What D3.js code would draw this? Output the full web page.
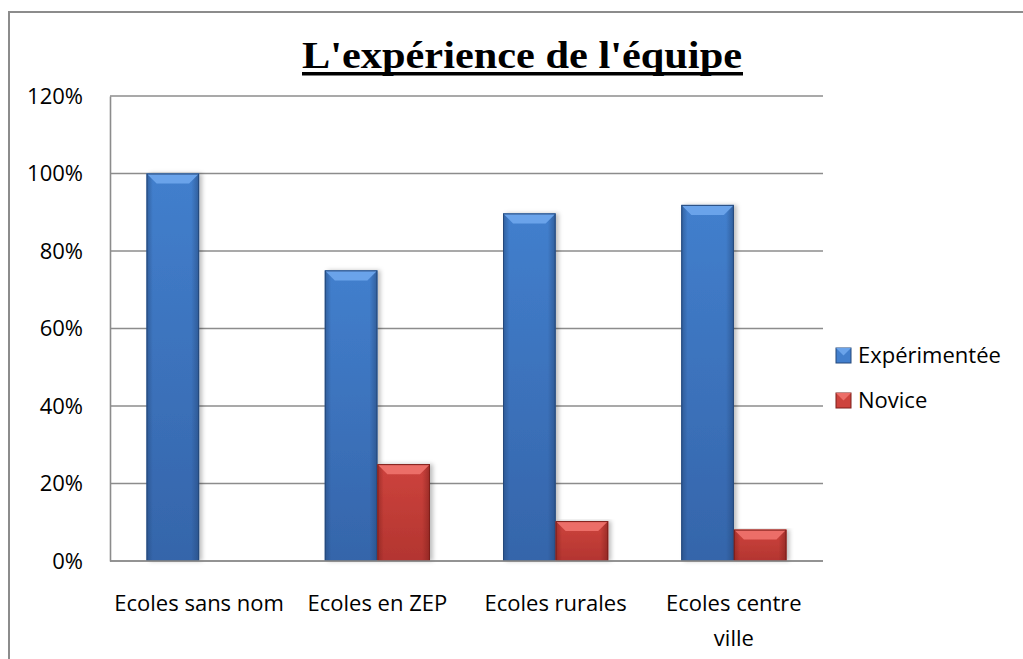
<!DOCTYPE html>
<html>
<head>
<meta charset="utf-8">
<script src="https://cdn.jsdelivr.net/npm/d3@7"></script>
<style>
  body { margin: 0; background: #fff; }
  svg { display: block; }
  text { font-family: "Open Sans", Lato, sans-serif; fill: #000; }
</style>
</head>
<body>
<svg id="chart"></svg>
<script>
let categories = ['Ecoles sans nom', 'Ecoles en ZEP', 'Ecoles rurales', 'Ecoles centre ville']
let seriesNames = ['Expérimentée', 'Novice']
let experimentee = [1.0, 0.75, 0.897, 0.919]
let novice = [0, 0.25, 0.103, 0.081]
let yTicks = [0, 0.2, 0.4, 0.6, 0.8, 1.0, 1.2]

let width = 1023
let height = 659
let plot = {left: 110, right: 823, top: 96, bottom: 561}
let fontSize = '22px'

// colours for the bevelled bars: main, light top, dark edge
let palette = [
  {top: '#427fcd', bottom: '#3565aa', bevel: '#6aa3ea', edge: '#25487a'},
  {top: '#cd433d', bottom: '#b33530', bevel: '#ec6e68', edge: '#7d1f1b'}
]

let svg = d3.select('#chart').attr('width', width).attr('height', height)

let rows = categories.map((c, i) => ({cat: c, values: [experimentee[i], novice[i]]}))

let x0 = d3.scaleBand().domain(categories).range([plot.left, plot.right])
           .paddingInner(0.41).paddingOuter(0.205)
let x1 = d3.scaleBand().domain(seriesNames).range([0, x0.bandwidth()])
let y = d3.scaleLinear().domain([0, 1.2]).range([plot.bottom, plot.top])

let defs = svg.append('defs')
palette.forEach((p, i) => {
  let g = defs.append('linearGradient').attr('id', 'grad' + i)
              .attr('x1', 0).attr('y1', 0).attr('x2', 0).attr('y2', 1)
  g.append('stop').attr('offset', '0%').attr('stop-color', p.top)
  g.append('stop').attr('offset', '100%').attr('stop-color', p.bottom)
  let h = defs.append('linearGradient').attr('id', 'side' + i)
              .attr('x1', 0).attr('y1', 0).attr('x2', 1).attr('y2', 0)
  h.append('stop').attr('offset', '0%').attr('stop-color', p.edge).attr('stop-opacity', 0.55)
  h.append('stop').attr('offset', '12%').attr('stop-color', p.edge).attr('stop-opacity', 0)
  h.append('stop').attr('offset', '85%').attr('stop-color', p.edge).attr('stop-opacity', 0)
  h.append('stop').attr('offset', '100%').attr('stop-color', p.edge).attr('stop-opacity', 0.6)
})
let shadow = defs.append('filter').attr('id', 'shadow').attr('x', '-20%').attr('y', '-5%')
                 .attr('width', '150%').attr('height', '115%')
shadow.append('feDropShadow').attr('dx', 3).attr('dy', 0).attr('stdDeviation', 2)
      .attr('flood-color', '#000').attr('flood-opacity', 0.25)

// outer frame
svg.append('rect')
   .attr('x', 9).attr('y', 12).attr('width', width).attr('height', height)
   .attr('fill', 'none').attr('stroke', '#8c8c8c').attr('stroke-width', 2)

// title
svg.append('text')
   .attr('x', 522).attr('y', 68)
   .attr('text-anchor', 'middle')
   .style('font-family', '"Liberation Serif", "Times New Roman", serif')
   .style('font-weight', 'bold')
   .style('font-size', '37px')
   .attr('textLength', 440).attr('lengthAdjust', 'spacingAndGlyphs')
   .text("L'expérience de l'équipe")
svg.append('rect')
   .attr('x', 302).attr('y', 72).attr('width', 441).attr('height', 3.5)
   .attr('fill', '#000')

// gridlines
svg.append('g')
   .selectAll('line')
   .data(yTicks)
   .enter()
   .append('line')
   .attr('x1', plot.left).attr('x2', plot.right)
   .attr('y1', d => y(d)).attr('y2', d => y(d))
   .attr('stroke', '#8c8c8c').attr('stroke-width', 1.6)

// y axis
let yAxis = d3.axisLeft(y).tickValues(yTicks)
              .tickFormat(d => Math.round(d * 100) + '%')
              .tickSize(0).tickPadding(27)
let yg = svg.append('g').attr('transform', 'translate(' + plot.left + ',0)').call(yAxis)
yg.select('.domain').attr('stroke', '#8c8c8c').attr('stroke-width', 1.6)
yg.selectAll('text').style('font-size', fontSize).attr('fill', '#000')

// bars
let groups = svg.append('g')
   .selectAll('g')
   .data(rows)
   .enter()
   .append('g')
   .attr('transform', d => 'translate(' + x0(d.cat) + ',0)')

let bars = groups.selectAll('g.bar')
   .data(d => d.values.map((v, i) => ({name: seriesNames[i], v: v, i: i})).filter(b => b.v > 0))
   .enter()
   .append('g')
   .attr('class', 'bar')

bars.append('rect')
   .attr('x', d => x1(d.name)).attr('width', x1.bandwidth())
   .attr('y', d => y(d.v)).attr('height', d => y(0) - y(d.v))
   .attr('fill', d => 'url(#grad' + d.i + ')')
   .attr('filter', 'url(#shadow)')
bars.append('rect')
   .attr('x', d => x1(d.name)).attr('width', x1.bandwidth())
   .attr('y', d => y(d.v)).attr('height', d => y(0) - y(d.v))
   .attr('fill', d => 'url(#side' + d.i + ')')
bars.append('path')
   .attr('d', d => {
     let xa = x1(d.name), xb = xa + x1.bandwidth(), yt = y(d.v), b = 10
     return 'M' + xa + ',' + yt + 'L' + xb + ',' + yt + 'L' + (xb - b) + ',' + (yt + b) +
            'L' + (xa + b) + ',' + (yt + b) + 'Z'
   })
   .attr('fill', d => palette[d.i].bevel)
bars.append('rect')
   .attr('x', d => x1(d.name) + 0.5).attr('width', x1.bandwidth() - 1)
   .attr('y', d => y(d.v) + 0.5).attr('height', d => y(0) - y(d.v) - 1)
   .attr('fill', 'none').attr('stroke', d => palette[d.i].edge).attr('stroke-width', 1)

// x axis baseline
svg.append('line')
   .attr('x1', plot.left).attr('x2', plot.right)
   .attr('y1', y(0)).attr('y2', y(0))
   .attr('stroke', '#8c8c8c').attr('stroke-width', 1.6)

// category labels (wrapped like the original)
let wrapped = {'Ecoles centre ville': ['Ecoles centre', 'ville']}
svg.append('g')
   .selectAll('text')
   .data(categories)
   .enter()
   .append('text')
   .attr('text-anchor', 'middle')
   .style('font-size', fontSize)
   .each(function(d) {
     let lines = wrapped[d] || [d]
     let t = d3.select(this)
     lines.forEach((l, k) => {
       t.append('tspan')
        .attr('x', x0(d) + x0.bandwidth() / 2)
        .attr('y', 611 + k * 35)
        .text(l)
     })
   })

// legend
let legend = svg.append('g')
   .selectAll('g')
   .data(seriesNames)
   .enter()
   .append('g')
   .attr('transform', (d, i) => 'translate(836,' + (348 + i * 45) + ')')
legend.append('rect')
   .attr('width', 15).attr('height', 15)
   .attr('fill', (d, i) => palette[i].top)
   .attr('stroke', (d, i) => palette[i].edge).attr('stroke-width', 1)
legend.append('path')
   .attr('d', 'M0,0L15,0L7.5,7.5Z')
   .attr('fill', (d, i) => palette[i].bevel)
legend.append('text')
   .attr('x', 22).attr('y', 7.5).attr('dy', '0.35em')
   .style('font-size', fontSize)
   .text(d => d)
</script>
</body>
</html>
